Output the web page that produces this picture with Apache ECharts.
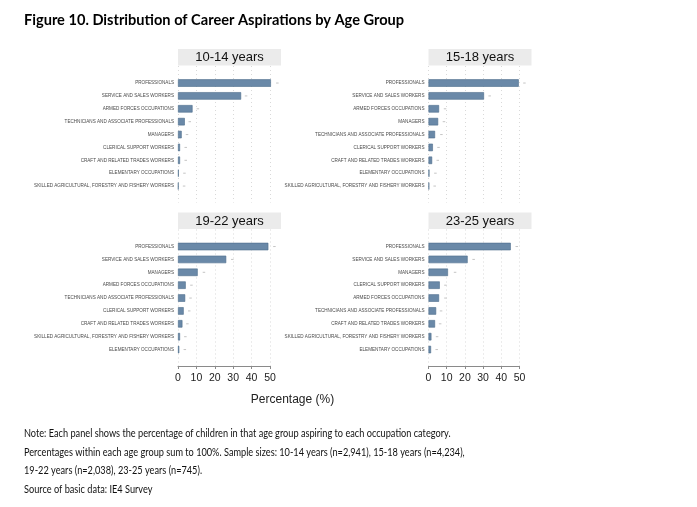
<!DOCTYPE html>
<html>
<head>
<meta charset="utf-8">
<script src="https://cdn.jsdelivr.net/npm/echarts@6/dist/echarts.min.js"></script>
<style>
  html, body { margin: 0; padding: 0; background: #fff; }
  #main { width: 697px; height: 507px; }
</style>
</head>
<body>
<div id="main"></div>
<script>
// data (percent of each age group)
const cats1014 = ['PROFESSIONALS', 'SERVICE AND SALES WORKERS', 'ARMED FORCES OCCUPATIONS',
    'TECHNICIANS AND ASSOCIATE PROFESSIONALS', 'MANAGERS', 'CLERICAL SUPPORT WORKERS',
    'CRAFT AND RELATED TRADES WORKERS', 'ELEMENTARY OCCUPATIONS',
    'SKILLED AGRICULTURAL, FORESTRY AND FISHERY WORKERS'];
const vals1014 = [50.5, 34.3, 7.9, 3.7, 2.0, 1.1, 1.1, 0.4, 0.3];
const marks1014 = [54.0, 37.0, 10.8, 6.4, 4.9, 4.2, 4.2, 3.5, 3.3];

const cats1518 = ['PROFESSIONALS', 'SERVICE AND SALES WORKERS', 'ARMED FORCES OCCUPATIONS',
    'MANAGERS', 'TECHNICIANS AND ASSOCIATE PROFESSIONALS', 'CLERICAL SUPPORT WORKERS',
    'CRAFT AND RELATED TRADES WORKERS', 'ELEMENTARY OCCUPATIONS',
    'SKILLED AGRICULTURAL, FORESTRY AND FISHERY WORKERS'];
const vals1518 = [49.6, 30.5, 5.8, 5.3, 3.6, 2.4, 2.0, 0.5, 0.4];
const marks1518 = [52.7, 33.6, 9.1, 8.5, 7.1, 5.5, 5.1, 3.8, 3.4];

const cats1922 = ['PROFESSIONALS', 'SERVICE AND SALES WORKERS', 'MANAGERS',
    'ARMED FORCES OCCUPATIONS', 'TECHNICIANS AND ASSOCIATE PROFESSIONALS',
    'CLERICAL SUPPORT WORKERS', 'CRAFT AND RELATED TRADES WORKERS',
    'SKILLED AGRICULTURAL, FORESTRY AND FISHERY WORKERS', 'ELEMENTARY OCCUPATIONS'];
const vals1922 = [49.1, 26.2, 10.7, 4.2, 3.9, 3.1, 2.4, 1.1, 0.7];
const marks1922 = [52.4, 29.5, 14.1, 7.3, 6.8, 6.1, 5.1, 4.0, 3.7];

const cats2325 = ['PROFESSIONALS', 'SERVICE AND SALES WORKERS', 'MANAGERS',
    'CLERICAL SUPPORT WORKERS', 'ARMED FORCES OCCUPATIONS',
    'TECHNICIANS AND ASSOCIATE PROFESSIONALS', 'CRAFT AND RELATED TRADES WORKERS',
    'SKILLED AGRICULTURAL, FORESTRY AND FISHERY WORKERS', 'ELEMENTARY OCCUPATIONS'];
const vals2325 = [45.2, 21.5, 10.7, 6.2, 5.8, 4.2, 3.6, 1.6, 1.4];
const marks2325 = [48.5, 24.8, 14.6, 9.3, 9.3, 6.9, 6.4, 4.7, 4.5];

const xTicks = [0, 10, 20, 30, 40, 50];

const panels = [
    {label: '10-14 years', cats: cats1014, vals: vals1014, marks: marks1014, col: 0, row: 0},
    {label: '15-18 years', cats: cats1518, vals: vals1518, marks: marks1518, col: 1, row: 0},
    {label: '19-22 years', cats: cats1922, vals: vals1922, marks: marks1922, col: 0, row: 1},
    {label: '23-25 years', cats: cats2325, vals: vals2325, marks: marks2325, col: 1, row: 1},
];

// layout
const colX = [178, 428.5];
const plotW = [92, 91];
const rowTop = [66, 229.5];
const bgH = 136.5;

const chart = echarts.init(document.getElementById('main'));

const grid = [], xAxis = [], yAxis = [], series = [], graphic = [];

// background grids: dotted verticals and shared x axis on bottom row
panels.forEach((p) => {
    const bottom = p.row === 1;
    grid.push({left: colX[p.col], top: rowTop[p.row], width: plotW[p.col], height: bgH});
    xAxis.push({
        gridIndex: grid.length - 1, type: 'value', min: xTicks[0], max: xTicks[xTicks.length - 1],
        interval: 10,
        splitLine: {show: true, lineStyle: {color: '#d9d9d9', type: [1, 3], width: 1}},
        axisLine: {show: bottom, lineStyle: {color: '#8a8a8a', width: 1}},
        axisTick: {show: bottom, length: 3, lineStyle: {color: '#8a8a8a'}},
        axisLabel: {show: bottom, color: '#222', fontSize: 10.5, margin: 7, fontFamily: 'Liberation Sans'}
    });
    yAxis.push({gridIndex: grid.length - 1, type: 'value', min: 0, max: 1, show: false});
});

// bar grids
panels.forEach((p, i) => {
    grid.push({left: colX[p.col], top: rowTop[p.row] + 10.6, width: plotW[p.col], height: 115.9});
    const gi = grid.length - 1;
    xAxis.push({gridIndex: gi, type: 'value', min: 0, max: 50, show: false});
    yAxis.push({
        gridIndex: gi, type: 'category', data: p.cats, inverse: true,
        axisLine: {show: false}, axisTick: {show: false}, splitLine: {show: false},
        axisLabel: {fontSize: 4.6, color: '#4a4a4a', margin: 4, fontFamily: 'Liberation Sans'}
    });
    series.push({
        type: 'bar', xAxisIndex: gi, yAxisIndex: gi, data: p.vals, barWidth: 7.5, clip: false,
        itemStyle: {color: '#6a89a8', borderColor: '#4e6d8b', borderWidth: 0.6}
    });
    series.push({
        type: 'scatter', xAxisIndex: gi, yAxisIndex: gi, clip: false,
        data: p.marks.map((m, j) => [m, p.cats[j]]),
        symbol: 'rect', symbolSize: [2.5, 1], itemStyle: {color: '#b5b5b5'}
    });

    // panel header strip
    graphic.push({
        type: 'rect', shape: {x: colX[p.col], y: rowTop[p.row] - 17, width: 103, height: 16.5},
        style: {fill: '#ebebeb'}
    });
    graphic.push({
        type: 'text', x: colX[p.col] + 51.5, y: rowTop[p.row] - 8.5,
        style: {text: p.label, font: '13px "Liberation Sans"', fill: '#111', align: 'center', verticalAlign: 'middle'}
    });
});

graphic.push({
    type: 'text', x: 24, y: 20,
    style: {text: 'Figure 10. Distribution of Career Aspirations by Age Group',
        font: 'bold 14.6px Lato', fill: '#000', verticalAlign: 'middle'}
});
graphic.push({
    type: 'text', x: 292.5, y: 400,
    style: {text: 'Percentage (%)', font: '12px "Liberation Sans"', fill: '#222', align: 'center', verticalAlign: 'middle'}
});

const noteLines = [
    'Note: Each panel shows the percentage of children in that age group aspiring to each occupation category.',
    'Percentages within each age group sum to 100%. Sample sizes: 10-14 years (n=2,941), 15-18 years (n=4,234),',
    '19-22 years (n=2,038), 23-25 years (n=745).',
    'Source of basic data: IE4 Survey'
];
noteLines.forEach((t, k) => {
    // narrowed to match the condensed note face of the original
    graphic.push({
        type: 'text', x: 24, y: 434 + k * 18.4, scaleX: 0.875,
        style: {text: t, font: '10.5px Lato', fill: '#111', verticalAlign: 'middle'}
    });
});

chart.setOption({
    animation: false,
    backgroundColor: '#fff',
    grid: grid,
    xAxis: xAxis,
    yAxis: yAxis,
    series: series,
    graphic: graphic
});
</script>
</body>
</html>
